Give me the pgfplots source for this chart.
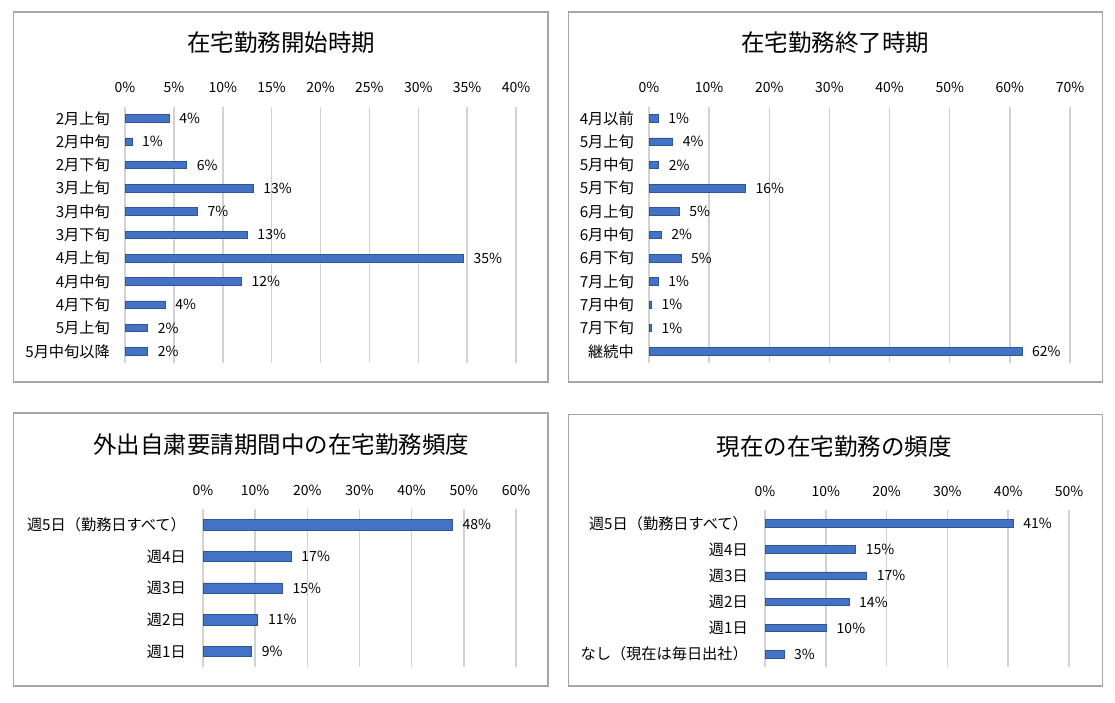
\documentclass[border=0pt]{standalone}
\usepackage{fontspec}
\setmainfont{Noto Sans CJK JP}
\usepackage{pgfplots}
\usepackage{pgfplotstable}
\pgfplotsset{compat=1.18}

\definecolor{barblue}{RGB}{68,114,196}
\definecolor{baredge}{RGB}{47,85,151}
\definecolor{gridgray}{RGB}{210,210,210}
\definecolor{framegray}{RGB}{166,166,166}

\newcommand{\tickfont}{\fontsize{14}{16}\selectfont}
\newcommand{\labfont}{\fontsize{15.2}{17}\selectfont}
\newcommand{\titlefont}{\fontsize{23.5}{26}\selectfont}

% value, row position (top row = highest), label
\pgfplotstableread{
val  pos lab
4.5  10  4
0.7  9   1
6.3  8   6
13.1 7   13
7.4  6   7
12.5 5   13
34.6 4   35
11.9 3   12
4.1  2   4
2.3  1   2
2.3  0   2
}\startdata

\pgfplotstableread{
val  pos lab
1.5  10  1
3.9  9   4
1.6  8   2
16.0 7   16
5.0  6   5
2.0  5   2
5.3  4   5
1.5  3   1
0.4  2   1
0.4  1   1
62.0 0   62
}\enddata

\pgfplotstableread{
val  pos lab
47.8 4   48
16.9 3   17
15.2 2   15
10.5 1   11
9.3  0   9
}\lockdowndata

\pgfplotstableread{
val  pos lab
40.8 5   41
14.9 4   15
16.7 3   17
13.8 2   14
10.1 1   10
3.1  0   3
}\nowdata

\pgfplotsset{
  panel/.style={
    scale only axis,
    xbar,
    xmin=0, ymin=-0.5,
    axis line style={draw=none},
    tick style={draw=none},
    major tick length=0pt,
    xmajorgrids,
    grid style={color=gridgray, line width=1.5pt},
    xticklabel pos=upper,
    xticklabel style={anchor=base, inner sep=0pt, yshift=14pt, font=\tickfont},
    yticklabel style={anchor=east, inner sep=0pt, xshift=-15pt, font=\labfont},
    point meta=explicit,
    nodes near coords={\pgfmathprintnumber[assume math mode=true]{\pgfplotspointmeta}\%},
    every node near coord/.append style={font=\tickfont, anchor=west, inner sep=0pt, xshift=10pt, text=black},
    clip=false,
  },
  bars/.style={fill=barblue, draw=baredge, line width=0.6pt},
}

\begin{document}
\begin{tikzpicture}
\useasboundingbox (0,0) rectangle (1115pt,703pt);
\fill[white] (0,0) rectangle (1115pt,703pt);

% frames
\draw[framegray, line width=1.8pt] (13.5pt,691pt) rectangle (548pt,321pt);
\draw[framegray, line width=1.8pt] (568.5pt,691pt) rectangle (1102.5pt,321pt);
\draw[framegray, line width=1.8pt] (13.5pt,290pt) rectangle (548pt,17pt);
\draw[framegray, line width=1.8pt] (568.5pt,288.5pt) rectangle (1102.5pt,17pt);

% titles
\node[font=\titlefont] at (281pt,660pt) {在宅勤務開始時期};
\node[font=\titlefont] at (835pt,660pt) {在宅勤務終了時期};
\node[font=\titlefont] at (281pt,258pt) {外出自粛要請期間中の在宅勤務頻度};
\node[font=\titlefont] at (834pt,256pt) {現在の在宅勤務の頻度};

% panel 1
\begin{axis}[panel,
  at={(125pt,340pt)}, anchor=south west,
  width=391pt, height=256.3pt,
  xmax=40, ymax=10.5,
  xtick={0,5,...,40},
  xticklabels={0\%,5\%,10\%,15\%,20\%,25\%,30\%,35\%,40\%},
  ytick={0,...,10},
  yticklabels={5月中旬以降,5月上旬,4月下旬,4月中旬,4月上旬,3月下旬,3月中旬,3月上旬,2月下旬,2月中旬,2月上旬},
  bar width=7.5pt,
]
\addplot[bars] table[x=val, y=pos, meta=lab] {\startdata};
\end{axis}

% panel 2
\begin{axis}[panel,
  at={(649pt,340pt)}, anchor=south west,
  width=421pt, height=256.3pt,
  xmax=70, ymax=10.5,
  xtick={0,10,...,70},
  xticklabels={0\%,10\%,20\%,30\%,40\%,50\%,60\%,70\%},
  ytick={0,...,10},
  yticklabels={継続中,7月下旬,7月中旬,7月上旬,6月下旬,6月中旬,6月上旬,5月下旬,5月中旬,5月上旬,4月以前},
  bar width=7.5pt,
]
\addplot[bars] table[x=val, y=pos, meta=lab] {\enddata};
\end{axis}

% panel 3
\begin{axis}[panel,
  at={(203pt,35.7pt)}, anchor=south west,
  width=313pt, height=158.3pt,
  xmax=60, ymax=4.5,
  xtick={0,10,...,60},
  xticklabels={0\%,10\%,20\%,30\%,40\%,50\%,60\%},
  ytick={0,...,4},
  yticklabels={週1日,週2日,週3日,週4日,週5日（勤務日すべて）},
  yticklabel style={xshift=-2pt},
  bar width=10.5pt,
]
\addplot[bars] table[x=val, y=pos, meta=lab] {\lockdowndata};
\end{axis}

% panel 4
\begin{axis}[panel,
  at={(765pt,35.7pt)}, anchor=south west,
  width=304pt, height=157pt,
  xmax=50, ymax=5.5,
  xtick={0,10,...,50},
  xticklabels={0\%,10\%,20\%,30\%,40\%,50\%},
  ytick={0,...,5},
  yticklabels={なし（現在は毎日出社）,週1日,週2日,週3日,週4日,週5日（勤務日すべて）},
  yticklabel style={xshift=-2pt},
  bar width=7.5pt,
]
\addplot[bars] table[x=val, y=pos, meta=lab] {\nowdata};
\end{axis}
\end{tikzpicture}
\end{document}
